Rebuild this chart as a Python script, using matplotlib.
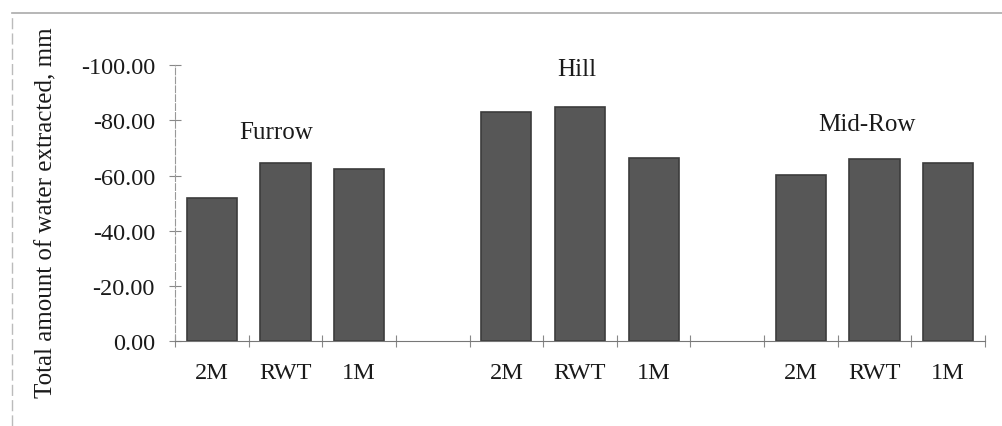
import matplotlib.pyplot as plt
import numpy as np
from matplotlib.lines import Line2D

# data (negative = water extracted), Excel-style category axis with blank gaps
cats = ["2M", "RWT", "1M", "", "2M", "RWT", "1M", "", "2M", "RWT", "1M"]
furrow = [-51.7, -64.4, -62.2]
hill = [-82.9, -85.0, -66.4]
midrow = [-60.1, -65.9, -64.7]
groups = ["Furrow", "Hill", "Mid-Row"]
yticks = [0, -20, -40, -60, -80, -100]

vals = furrow + [np.nan] + hill + [np.nan] + midrow
x = np.arange(len(cats))

plt.rcParams['font.family'] = ['Liberation Serif', 'DejaVu Serif']
txt = '#1a1a1a'

fig = plt.figure(figsize=(10.03, 4.27), dpi=100)
ax = fig.add_axes([0.1745, 0.199, 0.8075, 0.646])

bx = [i for i, v in enumerate(vals) if not np.isnan(v)]
bv = [v for v in vals if not np.isnan(v)]
ax.bar(bx, bv, width=0.68, color='#575757', edgecolor='#3c3c3c', linewidth=1.2, zorder=2)

ax.set_xlim(-0.5, len(cats) - 0.5)
ax.set_ylim(0, -100)
ax.set_yticks(yticks)
ax.set_yticklabels(["%.2f" % t for t in yticks])

# ticks at category boundaries, labels at centres
ax.set_xticks(np.arange(-0.5, len(cats), 1.0))
ax.set_xticklabels([])
ax.set_xticks(x, minor=True)
ax.set_xticklabels(cats, minor=True)
ax.tick_params(axis='x', which='major', direction='inout', length=9, color='#888888')
ax.tick_params(axis='x', which='minor', length=0, pad=15, labelsize=17.5, labelcolor=txt)
ax.tick_params(axis='y', direction='inout', length=9, color='#888888', pad=10,
               labelsize=17.5, labelcolor=txt)

for s in ['top', 'right']:
    ax.spines[s].set_visible(False)
ax.spines['left'].set_color('#999999')
ax.spines['left'].set_linestyle((0, (6, 2)))
ax.spines['bottom'].set_color('#777777')

ax.set_ylabel("Total amount of water extracted, mm", fontsize=18, color=txt)
ax.yaxis.set_label_coords(-0.145, 0.47)

# group labels
ax.text(0.87, -75.7, groups[0], ha='center', va='center', fontsize=18, color=txt)
ax.text(4.95, -98.5, groups[1], ha='center', va='center', fontsize=18, color=txt)
ax.text(8.9, -78.6, groups[2], ha='center', va='center', fontsize=18, color=txt)

# scanned frame: top and left edge
fig.add_artist(Line2D([0.012, 1.0], [0.967, 0.967], transform=fig.transFigure,
                      color='#aaaaaa', linewidth=1.2))
fig.add_artist(Line2D([0.012, 0.012], [0.0, 0.967], transform=fig.transFigure,
                      color='#bbbbbb', linewidth=1.0, linestyle=(0, (8, 3))))

fig.savefig("out.png", dpi=100)
